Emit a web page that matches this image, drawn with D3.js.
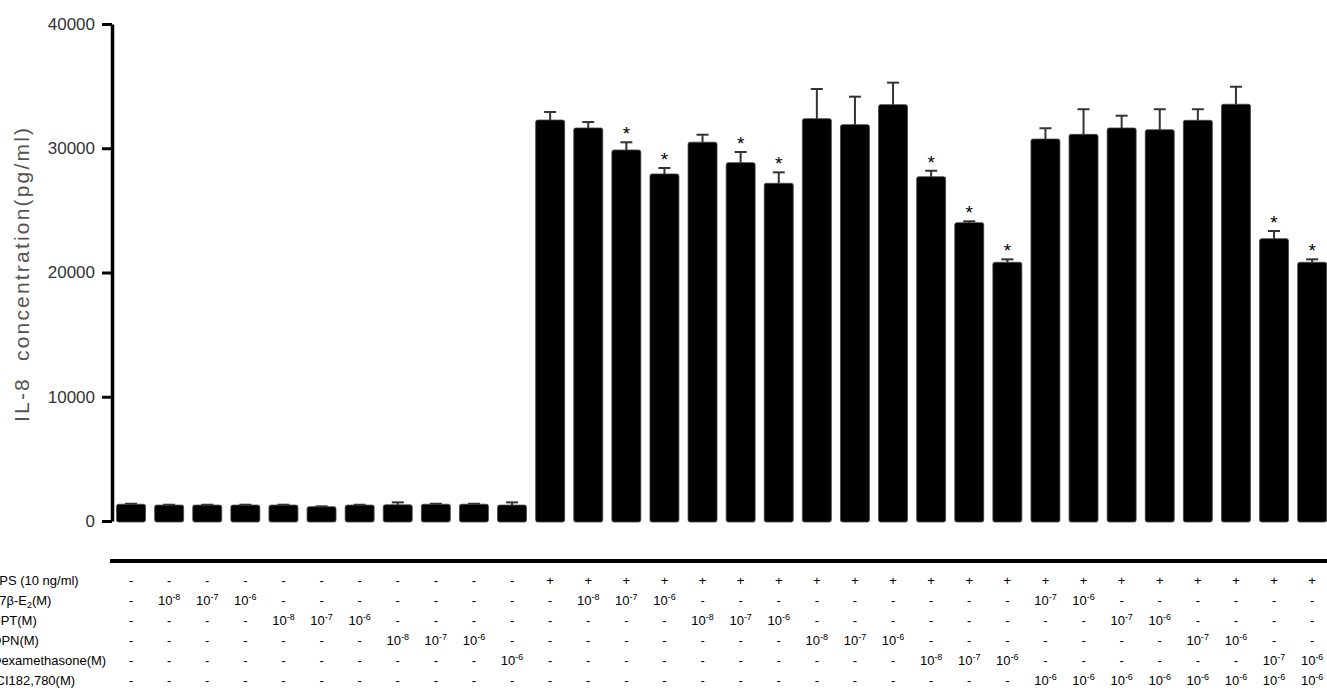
<!DOCTYPE html>
<html>
<head>
<meta charset="utf-8">
<script src="https://cdn.jsdelivr.net/npm/d3@7"></script>
<style>
	body { margin: 0; background: #fff; }
	svg { display: block; font-family: "Liberation Sans", Arial, sans-serif; }
</style>
</head>
<body>
<div id="chart"></div>
<script>
// bar means and upper error (pg/ml), one per column
const columns = d3.range(1, 33);
const means = [1350, 1280, 1280, 1280, 1280, 1150, 1280, 1300, 1350, 1350, 1280,
	32270, 31630, 29860, 27930, 30490, 28840, 27180, 32380, 31900, 33510,
	27710, 24010, 20820, 30740, 31120, 31630, 31490, 32250, 33540, 22720, 20820];
const errors = [40, 30, 30, 30, 30, 30, 30, 200, 40, 40, 220,
	650, 480, 620, 480, 600, 860, 880, 2390, 2250, 1770,
	480, 110, 240, 870, 2020, 990, 1650, 890, 1410, 620, 240];
const significant = [14, 15, 17, 18, 22, 23, 24, 31, 32];
const yTicks = [0, 10000, 20000, 30000, 40000];

// treatment table rows ("-8" means 10^-8 M)
const rowLabels = ["LPS (10 ng/ml)", "17β-E2(M)", "PPT(M)", "DPN(M)", "Dexamethasone(M)", "ICI182,780(M)"];
const lpsRow = ["-", "-", "-", "-", "-", "-", "-", "-", "-", "-", "-",
	"+", "+", "+", "+", "+", "+", "+", "+", "+", "+", "+", "+", "+", "+", "+", "+", "+", "+", "+", "+", "+"];
const e2Row = ["-", "-8", "-7", "-6", "-", "-", "-", "-", "-", "-", "-", "-", "-8", "-7", "-6", "-",
	"-", "-", "-", "-", "-", "-", "-", "-", "-7", "-6", "-", "-", "-", "-", "-", "-"];
const pptRow = ["-", "-", "-", "-", "-8", "-7", "-6", "-", "-", "-", "-", "-", "-", "-", "-", "-8",
	"-7", "-6", "-", "-", "-", "-", "-", "-", "-", "-", "-7", "-6", "-", "-", "-", "-"];
const dpnRow = ["-", "-", "-", "-", "-", "-", "-", "-8", "-7", "-6", "-", "-", "-", "-", "-", "-",
	"-", "-", "-8", "-7", "-6", "-", "-", "-", "-", "-", "-", "-", "-7", "-6", "-", "-"];
const dexRow = ["-", "-", "-", "-", "-", "-", "-", "-", "-", "-", "-6", "-", "-", "-", "-", "-",
	"-", "-", "-", "-", "-", "-8", "-7", "-6", "-", "-", "-", "-", "-", "-", "-7", "-6"];
const iciRow = ["-", "-", "-", "-", "-", "-", "-", "-", "-", "-", "-", "-", "-", "-", "-", "-",
	"-", "-", "-", "-", "-", "-", "-", "-", "-6", "-6", "-6", "-6", "-6", "-6", "-6", "-6"];
const tableRows = [lpsRow, e2Row, pptRow, dpnRow, dexRow, iciRow];

const width = 1327, height = 690;
const svg = d3.select("#chart").append("svg")
	.attr("width", width)
	.attr("height", height);

let x = d3.scaleBand()
	.domain(columns)
	.range([112, 1331.2])
	.padding(0);
let barW = x.bandwidth() * 0.76;
let cx = c => x(c) + x.bandwidth() / 2;

let y = d3.scaleLinear()
	.domain([0, 40000])
	.range([521, 24]);

// y axis
let yAxis = svg.append("g")
	.attr("transform", "translate(112,0)")
	.call(d3.axisLeft(y)
		.tickValues(yTicks)
		.tickFormat(d3.format("d"))
		.tickSize(10)
		.tickSizeOuter(0)
		.tickPadding(7));
yAxis.select(".domain").attr("stroke", "#000").attr("stroke-width", 3.5);
yAxis.selectAll(".tick line").attr("stroke", "#000").attr("stroke-width", 3);
yAxis.selectAll(".tick text")
	.style("font-size", "17px")
	.style("font-family", "'Liberation Sans', Arial, sans-serif")
	.attr("fill", "#333");

svg.append("text")
	.attr("transform", "translate(29,275) rotate(-90)")
	.attr("text-anchor", "middle")
	.attr("fill", "#555")
	.style("font-size", "21px")
	.style("white-space", "pre")
	.attr("textLength", 294)
	.attr("lengthAdjust", "spacing")
	.text("IL-8  concentration(pg/ml)");

// bars
svg.selectAll("rect.bar")
	.data(columns)
	.enter()
	.append("rect")
	.attr("class", "bar")
	.attr("x", c => cx(c) - barW / 2)
	.attr("y", c => y(means[c - 1]))
	.attr("width", barW)
	.attr("height", c => y(0) - y(means[c - 1]) + 1)
	.attr("rx", 2)
	.attr("fill", "#000")
	.attr("stroke", "#444")
	.attr("stroke-width", 0.8);

// error bars (upper only)
let err = svg.selectAll("g.err")
	.data(columns)
	.enter()
	.append("g")
	.attr("class", "err")
	.attr("stroke", "#333")
	.attr("stroke-width", 2);
err.append("line")
	.attr("x1", c => cx(c))
	.attr("x2", c => cx(c))
	.attr("y1", c => y(means[c - 1]))
	.attr("y2", c => y(means[c - 1] + errors[c - 1]));
err.append("line")
	.attr("x1", c => cx(c) - 6)
	.attr("x2", c => cx(c) + 6)
	.attr("y1", c => y(means[c - 1] + errors[c - 1]))
	.attr("y2", c => y(means[c - 1] + errors[c - 1]));

// significance stars
svg.selectAll("text.star")
	.data(significant)
	.enter()
	.append("text")
	.attr("class", "star")
	.attr("x", c => cx(c))
	.attr("y", c => y(means[c - 1] + errors[c - 1]) - 2)
	.attr("text-anchor", "middle")
	.style("font-size", "19px")
	.attr("fill", "#000")
	.text("*");

// treatment table
svg.append("line")
	.attr("x1", 110)
	.attr("x2", width)
	.attr("y1", 561)
	.attr("y2", 561)
	.attr("stroke", "#000")
	.attr("stroke-width", 4);

let rowY = i => 585 + i * 20;

// row labels start left of the page edge, as in the source figure
rowLabels.forEach((label, i) => {
	let t = svg.append("text")
		.attr("x", -8)
		.attr("y", rowY(i))
		.style("font-size", "13px")
		.attr("fill", "#000");
	if (label.includes("E2")) {
		t.append("tspan").text("17β-E");
		t.append("tspan").attr("dy", 3).style("font-size", "9px").text("2");
		t.append("tspan").attr("dy", -3).text("(M)");
	} else {
		t.text(label);
	}
});

tableRows.forEach((row, i) => {
	svg.selectAll(`text.row${i}`)
		.data(row)
		.enter()
		.append("text")
		.attr("class", `row${i}`)
		.attr("x", (d, j) => cx(columns[j]))
		.attr("y", rowY(i))
		.attr("text-anchor", "middle")
		.style("font-size", "13px")
		.attr("fill", "#000")
		.each(function (d) {
			let t = d3.select(this);
			if (d === "-" || d === "+") {
				t.text(d);
			} else {
				t.append("tspan").text("10");
				t.append("tspan").attr("dy", -5).style("font-size", "9px").text(d);
			}
		});
});
</script>
</body>
</html>
